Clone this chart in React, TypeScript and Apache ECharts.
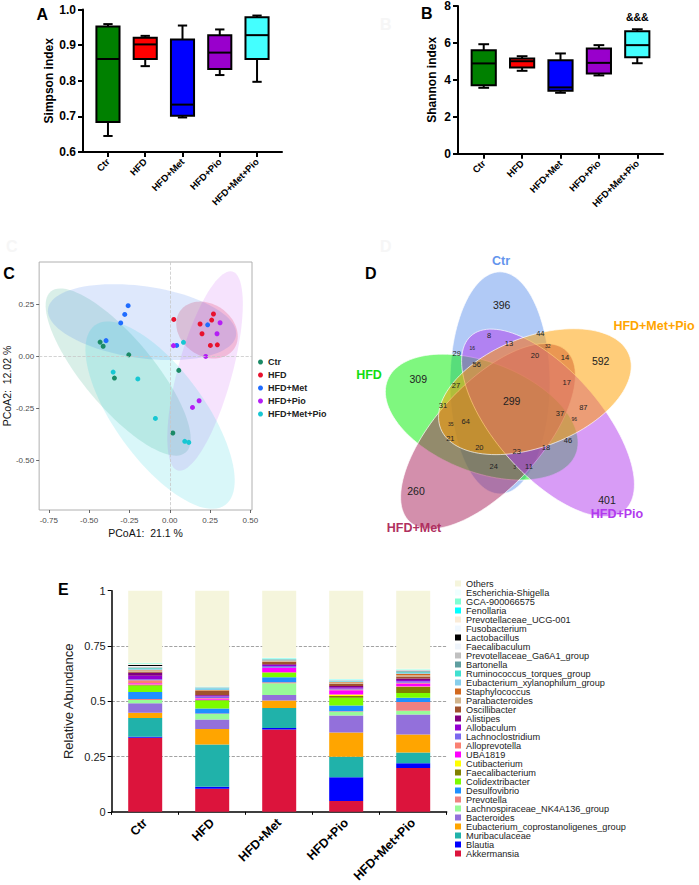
import React, { useEffect, useRef } from 'react';
import * as echarts from 'echarts';

const FONT = '"Liberation Sans", Arial, Helvetica, sans-serif';

// ---------- shared ----------
const groups = ['Ctr', 'HFD', 'HFD+Met', 'HFD+Pio', 'HFD+Met+Pio'];
const boxColors = ['#008000', '#ff0000', '#0000ff', '#9900cc', '#44ffff'];

// ---------- A / B : [min, q1, median, q3, max] ----------
const simpsonStats = [
  [0.645, 0.684, 0.861, 0.952, 0.959],
  [0.841, 0.861, 0.902, 0.921, 0.926],
  [0.697, 0.702, 0.733, 0.916, 0.955],
  [0.816, 0.833, 0.879, 0.928, 0.944],
  [0.797, 0.861, 0.928, 0.978, 0.983],
];
const shannonStats = [
  [3.57, 3.71, 4.89, 5.6, 5.93],
  [4.49, 4.67, 5.01, 5.16, 5.28],
  [3.3, 3.41, 3.59, 5.06, 5.43],
  [4.24, 4.35, 4.92, 5.7, 5.88],
  [4.9, 5.23, 5.88, 6.63, 6.74],
];
const shannonNotes = ['', '', '', '', '&&&'];
const simpsonTicks = [0.6, 0.7, 0.8, 0.9, 1.0];
const shannonTicks = [0, 2, 4, 6, 8];

// ---------- C : PCoA ----------
const pcoaCtr = [[-0.432, 0.067], [-0.413, 0.047], [-0.254, 0.006], [-0.343, -0.106], [0.056, -0.069], [0.019, -0.37]];
const pcoaHFD = [[0.025, 0.176], [0.271, 0.202], [0.26, 0.173], [0.188, 0.154], [0.2, 0.107], [0.252, 0.051], [0.295, 0.054]];
const pcoaMet = [[-0.258, 0.242], [-0.279, 0.2], [-0.304, 0.159], [-0.395, 0.074], [0.043, 0.051], [0.235, 0.15]];
const pcoaPio = [[0.312, 0.16], [0.293, 0.107], [0.023, 0.05], [0.223, -0.002], [0.182, -0.215], [0.141, -0.247]];
const pcoaMetPio = [[-0.351, -0.077], [-0.198, -0.11], [0.085, 0.066], [-0.089, -0.3], [0.093, -0.41], [0.118, -0.415]];
const pcoaPoints = [pcoaCtr, pcoaHFD, pcoaMet, pcoaPio, pcoaMetPio];
// ellipse: centre, semi-axis vectors (data units)
const ellCtr = { c: [-0.32, -0.077], u: [0.418, -0.387], v: [-0.166, -0.108] };
const ellHFD = { c: [0.231, 0.125], u: [0.167, -0.091], v: [-0.092, -0.102] };
const ellMet = { c: [-0.172, 0.163], u: [0.583, -0.064], v: [-0.031, -0.171] };
const ellPio = { c: [0.219, -0.072], u: [-0.169, -0.478], v: [-0.162, 0.034] };
const ellMetPio = { c: [-0.06, -0.284], u: [0.404, -0.432], v: [-0.226, -0.127] };
const pcoaEllipses = [ellCtr, ellHFD, ellMet, ellPio, ellMetPio];
const pcoaColors = ['#1b8a66', '#e8112d', '#1f6cff', '#b41ef5', '#17c7d3'];
const pcoaFills = ['rgba(27,158,119,0.17)', 'rgba(232,17,45,0.2)', 'rgba(34,102,238,0.15)', 'rgba(192,64,240,0.15)', 'rgba(0,204,214,0.15)'];
const pcoaXTicks = [-0.75, -0.5, -0.25, 0, 0.25, 0.5];
const pcoaYTicks = [-0.5, -0.25, 0, 0.25];

// ---------- D : Venn ----------
const vennCounts = [396, 309, 592, 401, 260, 299, 8, 44, 13, 32, 29, 16, 20, 14, 56, 27, 17, 31, 87, 37, 96, 35, 64, 21, 46, 20, 23, 18, 24, 3, 11];
const vennPos = [
  [-10.3, 98.2], [-93.7, 31.3], [88.7, 47.7], [95, -77.5], [-96, -69.4], [-0.3, 11.7],
  [-23, 70.5], [28.3, 72.7], [-3, 63.7], [35.7, 61.5], [-55.3, 54.7], [-39.7, 59.2], [23, 52.3], [53, 50.7],
  [-35.3, 45], [-56, 26.1], [54.7, 28.2], [-69, 7.8], [71.3, 5.7], [48, 0.6], [62.3, -4.5], [-61.3, -9.3],
  [-46.3, -6.9], [-61.7, -22.3], [56, -24.3], [-32.7, -30.4], [4.7, -34], [34, -30.4], [-18.3, -47.5],
  [2.7, -47.5], [17, -47.7],
];
const vennTier = [0, 0, 0, 0, 0, 0, 1, 1, 1, 2, 1, 2, 1, 1, 1, 1, 1, 1, 1, 1, 2, 2, 1, 1, 1, 1, 1, 1, 1, 2, 1];
const vennTierSize = [10.5, 7.5, 5];
// set shapes (diagram units): centre, semi-major, semi-minor, direction (deg)
const vennCentres = [[-12, 28], [-30.3, -2.8], [-24, -20], [36, -8], [22.9, 20.1]];
const vennMajor = [100, 100, 110, 110, 100];
const vennMinor = [50, 50, 50, 50, 50];
const vennDirs = [90, 162, -137, -44, 18];
const vennFills = ['rgba(100,149,237,0.5)', 'rgba(0,240,0,0.5)', 'rgba(168,32,90,0.5)', 'rgba(178,58,238,0.5)', 'rgba(255,160,0,0.52)'];
const vennCatPos = [[-11, 137.8], [-143, 35.1], [-98, -102.7], [105, -90.5], [142, 79.3]];
const vennCatColors = ['#6495ed', '#11dd11', '#b03060', '#b23aee', '#ffa500'];

// ---------- E : stacked abundance (bottom -> top) ----------
const genera = [
  'Akkermansia', 'Blautia', 'Muribaculaceae', 'Eubacterium_coprostanoligenes_group', 'Bacteroides',
  'Lachnospiraceae_NK4A136_group', 'Prevotella', 'Desulfovibrio', 'Colidextribacter', 'Faecalibacterium',
  'Cutibacterium', 'UBA1819', 'Alloprevotella', 'Lachnoclostridium', 'Allobaculum', 'Alistipes',
  'Oscillibacter', 'Parabacteroides', 'Staphylococcus', 'Eubacterium_xylanophilum_group',
  'Ruminococcus_torques_group', 'Bartonella', 'Prevotellaceae_Ga6A1_group', 'Faecalibaculum',
  'Lactobacillus', 'Fusobacterium', 'Prevotellaceae_UCG-001', 'Fenollaria', 'GCA-900066575',
  'Escherichia-Shigella', 'Others',
];
const genusColors = [
  '#dc143c', '#0000ff', '#20b2aa', '#ffa500', '#9370db', '#98fb98', '#f08080', '#1e90ff', '#7cfc00', '#808000',
  '#ffff00', '#ff00ff', '#fa8072', '#7b68ee', '#9400d3', '#800080', '#a0522d', '#d2b48c', '#d2691e', '#87ceeb',
  '#40e0d0', '#5f9ea0', '#c0c0c0', '#eef4fb', '#000000', '#f0f8ff', '#faebd7', '#00ffff', '#7fffd4', '#f0ffff', '#f5f5dc',
];
const abundCtr = [0.335, 0.004, 0.085, 0.024, 0.043, 0.015, 0.004, 0.032, 0.029, 0.003, 0.002, 0.006, 0.013, 0.005, 0.015, 0.014, 0.004, 0.007, 0.002, 0.004, 0.003, 0.003, 0.004, 0.003, 0.005, 0.002, 0.002, 0.001, 0.003, 0.002, 0.326];
const abundHFD = [0.104, 0.009, 0.192, 0.069, 0.043, 0.025, 0.003, 0.022, 0.037, 0.002, 0.001, 0.006, 0.002, 0.006, 0.004, 0.003, 0.018, 0.003, 0.002, 0.008, 0.002, 0.001, 0.001, 0.001, 0.0005, 0.0005, 0.0005, 0.0005, 0.001, 0.001, 0.432];
const abundMet = [0.372, 0.007, 0.09, 0.034, 0.025, 0.054, 0.004, 0.023, 0.019, 0.002, 0.001, 0.019, 0.002, 0.008, 0.004, 0.003, 0.012, 0.003, 0.002, 0.003, 0.002, 0.001, 0.001, 0.001, 0.0005, 0.0005, 0.0005, 0.0005, 0.002, 0.001, 0.303];
const abundPio = [0.049, 0.107, 0.093, 0.11, 0.077, 0.016, 0.003, 0.026, 0.035, 0.008, 0.007, 0.019, 0.003, 0.005, 0.005, 0.006, 0.01, 0.006, 0.002, 0.003, 0.003, 0.001, 0.001, 0.001, 0.0005, 0.0005, 0.0005, 0.0005, 0.002, 0.001, 0.399];
const abundMetPio = [0.198, 0.022, 0.048, 0.082, 0.09, 0.017, 0.04, 0.019, 0.021, 0.028, 0.002, 0.013, 0.004, 0.006, 0.006, 0.007, 0.009, 0.006, 0.006, 0.004, 0.003, 0.005, 0.004, 0.001, 0.0005, 0.0005, 0.0005, 0.0005, 0.002, 0.002, 0.353];
const abundByGroup = [abundCtr, abundHFD, abundMet, abundPio, abundMetPio];

// ---------- helpers ----------
const boxRenderer = (boxW: number, capW: number, notes?: string[]) => (params: any, api: any) => {
  const i = api.value(0);
  const pMin = api.coord([i, api.value(1)]);
  const pQ1 = api.coord([i, api.value(2)]);
  const pMed = api.coord([i, api.value(3)]);
  const pQ3 = api.coord([i, api.value(4)]);
  const pMax = api.coord([i, api.value(5)]);
  const bw = api.size([boxW, 0])[0];
  const cw = api.size([capW, 0])[0];
  const cx = pMed[0];
  const ls = { stroke: '#000', lineWidth: 2 };
  const children: any[] = [
    { type: 'line', shape: { x1: cx, y1: pMax[1], x2: cx, y2: pQ3[1] }, style: ls },
    { type: 'line', shape: { x1: cx - cw / 2, y1: pMax[1], x2: cx + cw / 2, y2: pMax[1] }, style: ls },
    { type: 'line', shape: { x1: cx, y1: pQ1[1], x2: cx, y2: pMin[1] }, style: ls },
    { type: 'line', shape: { x1: cx - cw / 2, y1: pMin[1], x2: cx + cw / 2, y2: pMin[1] }, style: ls },
    { type: 'rect', shape: { x: cx - bw / 2, y: pQ3[1], width: bw, height: pQ1[1] - pQ3[1] }, style: { fill: boxColors[params.dataIndex], stroke: '#000', lineWidth: 2 } },
    { type: 'line', shape: { x1: cx - bw / 2, y1: pMed[1], x2: cx + bw / 2, y2: pMed[1] }, style: ls },
  ];
  if (notes && notes[params.dataIndex]) {
    children.push({ type: 'text', x: cx, y: pMax[1] - 12, style: { text: notes[params.dataIndex], fill: '#000', fontSize: 10.5, fontWeight: 'bold', fontFamily: FONT, align: 'center', verticalAlign: 'middle' } });
  }
  return { type: 'group', children };
};

const boxXAxis = (gridIndex: number) => ({
  gridIndex, type: 'value', min: -0.67, max: 4.67,
  axisLine: { show: true, onZero: false, lineStyle: { color: '#000', width: 2 } },
  axisTick: { show: true, length: 5, customValues: [0, 1, 2, 3, 4], lineStyle: { color: '#000', width: 2 } },
  axisLabel: { show: true, customValues: [0, 1, 2, 3, 4], formatter: (v: number) => groups[Math.round(v)] ?? '', rotate: 45, fontSize: 9.5, fontWeight: 'bold', color: '#000', fontFamily: FONT, margin: 8 },
  splitLine: { show: false },
});

const boxYAxis = (gridIndex: number, min: number, max: number, ticks: number[], name: string, gap: number, digits: number) => ({
  gridIndex, type: 'value', min, max,
  name, nameLocation: 'middle', nameGap: gap,
  nameTextStyle: { fontSize: 12, fontWeight: 'bold', color: '#000', fontFamily: FONT },
  axisLine: { show: true, onZero: false, lineStyle: { color: '#000', width: 2 } },
  axisTick: { show: true, length: 5, customValues: ticks, lineStyle: { color: '#000', width: 2 } },
  axisLabel: { show: true, customValues: ticks, formatter: (v: number) => v.toFixed(digits), fontSize: 12, fontWeight: 'bold', color: '#000', fontFamily: FONT, margin: 7 },
  splitLine: { show: false },
});

function buildOption(): any {
  const series: any[] = [];

  // A & B box plots
  series.push({ type: 'custom', name: 'simpson', xAxisIndex: 0, yAxisIndex: 0, silent: true, data: simpsonStats.map((s, i) => [i, ...s]), renderItem: boxRenderer(0.62, 0.25), encode: { x: 0, y: [1, 5] } });
  series.push({ type: 'custom', name: 'shannon', xAxisIndex: 1, yAxisIndex: 1, silent: true, data: shannonStats.map((s, i) => [i, ...s]), renderItem: boxRenderer(0.63, 0.28, shannonNotes), encode: { x: 0, y: [1, 5] } });

  // C ellipses
  series.push({
    type: 'custom', name: 'pcoa-ellipses', xAxisIndex: 2, yAxisIndex: 2, silent: true, clip: true, z: 1,
    data: pcoaEllipses.map((e) => [e.c[0], e.c[1]]),
    renderItem: (params: any, api: any) => {
      const e = pcoaEllipses[params.dataIndex];
      const pts: number[][] = [];
      for (let k = 0; k < 96; k++) {
        const t = (k / 96) * Math.PI * 2;
        pts.push(api.coord([e.c[0] + Math.cos(t) * e.u[0] + Math.sin(t) * e.v[0], e.c[1] + Math.cos(t) * e.u[1] + Math.sin(t) * e.v[1]]));
      }
      return { type: 'polygon', shape: { points: pts }, style: { fill: pcoaFills[params.dataIndex], stroke: 'none' } };
    },
  });
  series.push({
    type: 'scatter', name: 'pcoa-zero', xAxisIndex: 2, yAxisIndex: 2, data: [], silent: true, z: 2,
    markLine: { silent: true, symbol: 'none', label: { show: false }, lineStyle: { color: '#c8c8c8', type: 'dashed', width: 0.8 }, data: [{ xAxis: 0 }, { yAxis: 0 }] },
  });
  groups.forEach((g, gi) => {
    series.push({ type: 'scatter', name: g, xAxisIndex: 2, yAxisIndex: 2, symbolSize: 5, z: 3, silent: true, itemStyle: { color: pcoaColors[gi], opacity: 1 }, data: pcoaPoints[gi] });
  });

  // D venn
  series.push({
    type: 'custom', name: 'venn-sets', xAxisIndex: 3, yAxisIndex: 3, silent: true, z: 2,
    data: vennCentres.map((c) => [c[0], c[1]]),
    renderItem: (params: any, api: any) => {
      const i = params.dataIndex;
      const phi = (vennDirs[i] * Math.PI) / 180;
      const ux = Math.cos(phi), uy = Math.sin(phi);
      const px = -uy, py = ux;
      const cx = vennCentres[i][0], cy = vennCentres[i][1];
      const A = vennMajor[i], B = vennMinor[i];
      const pts: number[][] = [];
      for (let k = 0; k < 120; k++) {
        const t = (k / 120) * Math.PI * 2;
        pts.push(api.coord([cx + A * Math.cos(t) * ux + B * Math.sin(t) * px, cy + A * Math.cos(t) * uy + B * Math.sin(t) * py]));
      }
      return { type: 'polygon', shape: { points: pts }, style: { fill: vennFills[i], stroke: 'rgba(255,255,255,0.85)', lineWidth: 0.8 } };
    },
  });
  series.push({
    type: 'custom', name: 'venn-counts', xAxisIndex: 3, yAxisIndex: 3, silent: true, z: 4,
    data: vennPos.map((p) => [p[0], p[1]]),
    renderItem: (params: any, api: any) => {
      const i = params.dataIndex;
      const p = api.coord([api.value(0), api.value(1)]);
      return { type: 'text', x: p[0], y: p[1], style: { text: String(vennCounts[i]), fill: '#222', fontSize: vennTierSize[vennTier[i]], fontFamily: FONT, align: 'center', verticalAlign: 'middle' } };
    },
  });
  series.push({
    type: 'custom', name: 'venn-cats', xAxisIndex: 3, yAxisIndex: 3, silent: true, z: 4,
    data: vennCatPos.map((p) => [p[0], p[1]]),
    renderItem: (params: any, api: any) => {
      const i = params.dataIndex;
      const p = api.coord([api.value(0), api.value(1)]);
      return { type: 'text', x: p[0], y: p[1], style: { text: groups[i], fill: vennCatColors[i], fontSize: 12.5, fontWeight: 'bold', fontFamily: FONT, align: 'center', verticalAlign: 'middle' } };
    },
  });

  // E stacked bars
  genera.forEach((g, k) => {
    series.push({
      type: 'bar', name: g, stack: 'abundance', xAxisIndex: 4, yAxisIndex: 4, barWidth: 34, silent: true,
      itemStyle: { color: genusColors[k] },
      data: abundByGroup.map((arr) => arr[k]),
    });
  });

  const letter = (t: string, x: number, y: number, fill = '#000') => ({
    type: 'text', x, y, silent: true,
    style: { text: t, fill, fontSize: 16, fontWeight: 'bold', fontFamily: FONT, verticalAlign: 'middle' },
  });

  return {
    animation: false,
    backgroundColor: '#fff',
    grid: [
      { left: 83, top: 9.5, width: 199, height: 142.5 },
      { left: 458, top: 5.7, width: 205, height: 148 },
      { left: 39, top: 262, width: 213, height: 248, show: true, borderColor: '#b0b0b0', borderWidth: 1, backgroundColor: 'rgba(0,0,0,0)' },
      { left: 342, top: 250, width: 357, height: 300 },
      { left: 111.7, top: 590.7, width: 335, height: 223.6 },
    ],
    xAxis: [
      boxXAxis(0),
      boxXAxis(1),
      {
        gridIndex: 2, type: 'value', min: -0.81, max: 0.51,
        name: 'PCoA1:  21.1 %', nameLocation: 'middle', nameGap: 17,
        nameTextStyle: { fontSize: 10.5, color: '#111', fontFamily: FONT },
        axisLine: { show: false, onZero: false },
        axisTick: { show: true, length: 3, customValues: pcoaXTicks, lineStyle: { color: '#444', width: 0.8 } },
        axisLabel: { show: true, customValues: pcoaXTicks, formatter: (v: number) => v.toFixed(2), fontSize: 8, color: '#4d4d4d', fontFamily: FONT, margin: 6 },
        splitLine: { show: false },
      },
      { gridIndex: 3, type: 'value', min: -170, max: 187, show: false },
      {
        gridIndex: 4, type: 'category', data: groups,
        axisLine: { show: true, onZero: false, lineStyle: { color: '#000', width: 1.5 } },
        axisTick: { show: true, length: 3, lineStyle: { color: '#000', width: 1 } },
        axisLabel: { interval: 0, rotate: 45, fontSize: 12.5, fontWeight: 'bold', color: '#000', fontFamily: FONT, margin: 9 },
      },
    ],
    yAxis: [
      boxYAxis(0, 0.6, 1.0, simpsonTicks, 'Simpson index', 27, 1),
      boxYAxis(1, 0, 8, shannonTicks, 'Shannon index', 20, 0),
      {
        gridIndex: 2, type: 'value', min: -0.74, max: 0.452,
        name: 'PCoA2:  12.02 %', nameLocation: 'middle', nameGap: 25,
        nameTextStyle: { fontSize: 10.5, color: '#111', fontFamily: FONT },
        axisLine: { show: false, onZero: false },
        axisTick: { show: true, length: 3, customValues: pcoaYTicks, lineStyle: { color: '#444', width: 0.8 } },
        axisLabel: { show: true, customValues: pcoaYTicks, formatter: (v: number) => v.toFixed(2), fontSize: 8, color: '#4d4d4d', fontFamily: FONT, margin: 5 },
        splitLine: { show: false },
      },
      { gridIndex: 3, type: 'value', min: -122.5, max: 147.7, show: false },
      {
        gridIndex: 4, type: 'value', min: 0, max: 1, interval: 0.25,
        name: 'Relative Abundance', nameLocation: 'middle', nameGap: 37,
        nameTextStyle: { fontSize: 13, color: '#222', fontFamily: FONT },
        axisLine: { show: true, onZero: false, lineStyle: { color: '#000', width: 1.5 } },
        axisTick: { show: true, length: 4, lineStyle: { color: '#000', width: 1 } },
        axisLabel: { fontSize: 11, color: '#222', fontFamily: FONT, margin: 6 },
        splitLine: { show: true, lineStyle: { type: 'dashed', width: 0.8, color: ['rgba(0,0,0,0)', '#8a8a8a', '#8a8a8a', '#8a8a8a', 'rgba(0,0,0,0)'] } },
      },
    ],
    legend: [
      {
        data: groups, orient: 'vertical', left: 258, top: 357.5, padding: 0, itemGap: 4,
        itemWidth: 5, itemHeight: 5, icon: 'circle', selectedMode: false,
        textStyle: { fontSize: 9, fontWeight: 'bold', color: '#222', fontFamily: FONT, lineHeight: 9 },
      },
      {
        data: genera.slice().reverse(), orient: 'vertical', left: 455, top: 579, padding: 0, itemGap: 0,
        itemWidth: 6, itemHeight: 6, icon: 'rect', selectedMode: false,
        textStyle: { fontSize: 9.2, color: '#222', fontFamily: FONT, lineHeight: 9 },
      },
    ],
    graphic: [
      letter('B', 380, 24, '#f6f6f6'),
      letter('C', 6, 246, '#f6f6f6'),
      letter('D', 380, 246.5, '#f6f6f6'),
      letter('A', 36.5, 14.7),
      letter('B', 421, 13.8),
      letter('C', 3.3, 273),
      letter('D', 365, 273.8),
      letter('E', 58, 589),
    ],
    series,
  };
}

export default function App() {
  const ref = useRef<HTMLDivElement>(null);
  useEffect(() => {
    if (!ref.current) return;
    const chart = echarts.init(ref.current, null, { renderer: 'svg' });
    chart.setOption(buildOption());
    return () => chart.dispose();
  }, []);
  return <div ref={ref} style={{ position: 'absolute', left: 0, top: 0, width: 699, height: 885, background: '#fff' }} />;
}
